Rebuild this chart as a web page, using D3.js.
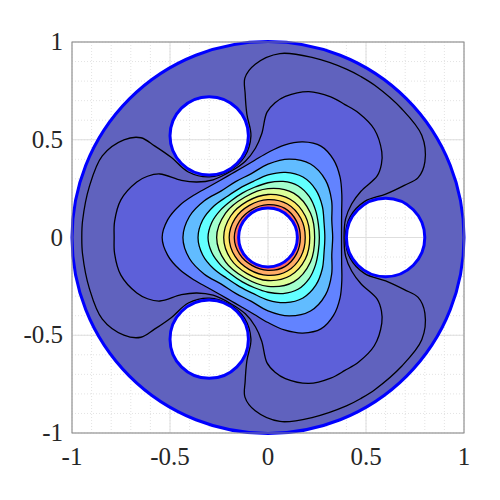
<!DOCTYPE html>
<html>
<head>
<meta charset="utf-8">
<script src="https://cdn.jsdelivr.net/npm/d3@7"></script>
<style>
  body { margin: 0; background: #fff; }
  text { font-family: "Liberation Serif", "DejaVu Serif", serif; fill: #262626; }
</style>
</head>
<body>
<svg id="chart"></svg>
<script>

// Domain: unit disk with one small hole at the centre and three around it
var holeX = [0, 0.6, -0.3, -0.3];
var holeY = [0, 0, 0.52, -0.52];
var holeR = [0.15, 0.2, 0.2, 0.2];
var outerR = 1;

// Contour lines, as [angle in degrees, radius] from the centre
var level1 = [[0,.395],[14,.431],[20.5,.527],[20.3,.64],[21,.745],[21.8,.825],[25.8,.889],[33.7,.943],[44,.948],[54.9,.95],[60,.95],[65.1,.95],[76,.948],[86.3,.943],[94.2,.889],[98.2,.825],[99,.745],[99.7,.64],[99.5,.527],[106,.431],
  [120,.395],[134,.431],[140.5,.527],[140.3,.64],[141,.745],[141.8,.825],[145.8,.889],[153.7,.943],[164,.948],[174.9,.95],[180,.95],[185.1,.95],[196,.948],[206.3,.943],[214.2,.889],[218.2,.825],[219,.745],[219.7,.64],[219.5,.527],[226,.431],
  [240,.395],[254,.431],[260.5,.527],[260.3,.64],[261,.745],[261.8,.825],[265.8,.889],[273.7,.943],[284,.948],[294.9,.95],[300,.95],[305.1,.95],[316,.948],[326.3,.943],[334.2,.889],[338.2,.825],[339,.745],[339.7,.64],[339.5,.527],[346,.431]];
var level2 = [[0,.388],[13.5,.407],[22,.461],[26.5,.53],[29.5,.64],[33,.69],[37,.727],[45.6,.775],[54,.787],[60,.785],[66,.787],[74.4,.775],[83,.727],[87,.69],[90.5,.64],[93.5,.53],[98,.461],[106.5,.407],
  [120,.388],[133.5,.407],[142,.461],[146.5,.53],[149.5,.64],[153,.69],[157,.727],[165.6,.775],[174,.787],[180,.785],[186,.787],[194.4,.775],[203,.727],[207,.69],[210.5,.64],[213.5,.53],[218,.461],[226.5,.407],
  [240,.388],[253.5,.407],[262,.461],[266.5,.53],[269.5,.64],[273,.69],[277,.727],[285.6,.775],[294,.787],[300,.785],[306,.787],[314.4,.775],[323,.727],[327,.69],[330.5,.64],[333.5,.53],[338,.461],[346.5,.407]];
var level3 = [[0,.375],[10,.381],[20,.40],[30,.435],[40,.48],[50,.52],[60,.54],[70,.52],[80,.48],[90,.435],[100,.40],[110,.381],
  [120,.375],[130,.381],[140,.40],[150,.435],[160,.48],[170,.52],[180,.54],[190,.52],[200,.48],[210,.435],[220,.40],[230,.381],
  [240,.375],[250,.381],[260,.40],[270,.435],[280,.48],[290,.52],[300,.54],[310,.52],[320,.48],[330,.435],[340,.40],[350,.381]];
var level4 = [[0,.33],[15,.337],[30,.375],[45,.415],[60,.434],[75,.415],[90,.375],[105,.337],
  [120,.33],[135,.337],[150,.375],[165,.415],[180,.434],[195,.415],[210,.375],[225,.337],
  [240,.33],[255,.337],[270,.375],[285,.415],[300,.434],[315,.415],[330,.375],[345,.337]];
var level5 = [[0,.29],[15,.296],[30,.32],[45,.345],[60,.357],[75,.345],[90,.32],[105,.296],
  [120,.29],[135,.296],[150,.32],[165,.345],[180,.357],[195,.345],[210,.32],[225,.296],
  [240,.29],[255,.296],[270,.32],[285,.345],[300,.357],[315,.345],[330,.32],[345,.296]];
var level6 = [[0,.262],[15,.266],[30,.28],[45,.297],[60,.306],[75,.297],[90,.28],[105,.266],
  [120,.262],[135,.266],[150,.28],[165,.297],[180,.306],[195,.297],[210,.28],[225,.266],
  [240,.262],[255,.266],[270,.28],[285,.297],[300,.306],[315,.297],[330,.28],[345,.266]];
var level7 = [[0,.238],[30,.25],[60,.262],[90,.25],[120,.238],[150,.25],[180,.262],[210,.25],[240,.238],[270,.25],[300,.262],[330,.25]];
var level8 = [[0,.213],[30,.22],[60,.226],[90,.22],[120,.213],[150,.22],[180,.226],[210,.22],[240,.213],[270,.22],[300,.226],[330,.22]];
var level9 = [[0,.19],[30,.194],[60,.198],[90,.194],[120,.19],[150,.194],[180,.198],[210,.194],[240,.19],[270,.194],[300,.198],[330,.194]];
var level10 = [[0,.165],[30,.168],[60,.172],[90,.168],[120,.165],[150,.168],[180,.172],[210,.168],[240,.165],[270,.168],[300,.172],[330,.168]];

// band colours, outermost first (outside level1, inside level1, ... inside level10)
var bandColors = ['#6062be', '#6062be', '#5d60d9', '#6283ff', '#61bcff', '#62ffff',
                  '#a2ffce', '#dcff9a', '#ffe76a', '#ffac66', '#ff6b60'];

var ticks = [-1, -0.5, 0, 0.5, 1];
var tickLabels = ['-1', '-0.5', '0', '0.5', '1'];
var minorTicks = d3.range(-10, 11).map(function(i){ return i / 10; });

var w = 500, h = 500;
var levels = [level1, level2, level3, level4, level5, level6, level7, level8, level9, level10];

var x = d3.scaleLinear().domain([-1, 1]).range([72, 464]);
var y = d3.scaleLinear().domain([-1, 1]).range([433, 42]);

var svg = d3.select('#chart')
  .attr('width', w)
  .attr('height', h);

// polar (deg, r) -> data x/y
function toXY(p) {
  var a = p[0] * Math.PI / 180;
  return [p[1] * Math.cos(a), p[1] * Math.sin(a)];
}

var line = d3.line()
  .x(function(d){ return x(d[0]); })
  .y(function(d){ return y(d[1]); })
  .curve(d3.curveCatmullRomClosed.alpha(0.5));

function circlePath(p, cx, cy, r) {
  var px = x(cx), py = y(cy), pr = x(r) - x(0);
  p.moveTo(px + pr, py);
  p.arc(px, py, pr, 0, 2 * Math.PI);
}

// grid
var grid = svg.append('g');
grid.selectAll('.minx').data(minorTicks).enter().append('line')
  .attr('x1', function(d){ return x(d); }).attr('x2', function(d){ return x(d); })
  .attr('y1', y(-1)).attr('y2', y(1))
  .attr('stroke', '#e3e3e3').attr('stroke-width', 1).attr('stroke-dasharray', '1,2');
grid.selectAll('.miny').data(minorTicks).enter().append('line')
  .attr('y1', function(d){ return y(d); }).attr('y2', function(d){ return y(d); })
  .attr('x1', x(-1)).attr('x2', x(1))
  .attr('stroke', '#e3e3e3').attr('stroke-width', 1).attr('stroke-dasharray', '1,2');
grid.selectAll('.majx').data(ticks).enter().append('line')
  .attr('x1', function(d){ return x(d); }).attr('x2', function(d){ return x(d); })
  .attr('y1', y(-1)).attr('y2', y(1))
  .attr('stroke', '#dedede').attr('stroke-width', 1);
grid.selectAll('.majy').data(ticks).enter().append('line')
  .attr('y1', function(d){ return y(d); }).attr('y2', function(d){ return y(d); })
  .attr('x1', x(-1)).attr('x2', x(1))
  .attr('stroke', '#dedede').attr('stroke-width', 1);

// domain clip: disk minus holes
var dom = d3.path();
circlePath(dom, 0, 0, outerR);
holeX.forEach(function(hx, i){ circlePath(dom, hx, holeY[i], holeR[i]); });

svg.append('clipPath').attr('id', 'domain')
  .append('path')
  .attr('d', dom.toString())
  .attr('clip-rule', 'evenodd');

var field = svg.append('g').attr('clip-path', 'url(#domain)');

field.append('rect')
  .attr('x', x(-1)).attr('y', y(1))
  .attr('width', x(1) - x(-1)).attr('height', y(-1) - y(1))
  .attr('fill', bandColors[0]);

field.selectAll('path.band')
  .data(levels)
  .enter()
  .append('path')
  .attr('class', 'band')
  .attr('d', function(d){ return line(d.map(toXY)); })
  .attr('fill', function(d, i){ return bandColors[i + 1]; });

field.selectAll('path.iso')
  .data(levels)
  .enter()
  .append('path')
  .attr('class', 'iso')
  .attr('d', function(d){ return line(d.map(toXY)); })
  .attr('fill', 'none')
  .attr('stroke', '#000')
  .attr('stroke-width', 1.3);

// boundaries
var bx = [0].concat(holeX), by = [0].concat(holeY), br = [outerR].concat(holeR);
svg.selectAll('circle.edge')
  .data(br)
  .enter()
  .append('circle')
  .attr('class', 'edge')
  .attr('cx', function(d, i){ return x(bx[i]); })
  .attr('cy', function(d, i){ return y(by[i]); })
  .attr('r', function(d){ return x(d) - x(0); })
  .attr('fill', 'none')
  .attr('stroke', '#0000ff')
  .attr('stroke-width', 3);

// axes box
svg.append('rect')
  .attr('x', x(-1)).attr('y', y(1))
  .attr('width', x(1) - x(-1)).attr('height', y(-1) - y(1))
  .attr('fill', 'none')
  .attr('stroke', '#8a8a8a')
  .attr('stroke-width', 1);

// tick labels
svg.selectAll('text.xt')
  .data(ticks)
  .enter()
  .append('text')
  .attr('x', function(d){ return x(d); })
  .attr('y', 465)
  .attr('text-anchor', 'middle')
  .style('font-size', '25px')
  .text(function(d, i){ return tickLabels[i]; });

svg.selectAll('text.yt')
  .data(ticks)
  .enter()
  .append('text')
  .attr('x', 63)
  .attr('y', function(d){ return y(d) + 8; })
  .attr('text-anchor', 'end')
  .style('font-size', '25px')
  .text(function(d, i){ return tickLabels[i]; });

</script>
</body>
</html>
